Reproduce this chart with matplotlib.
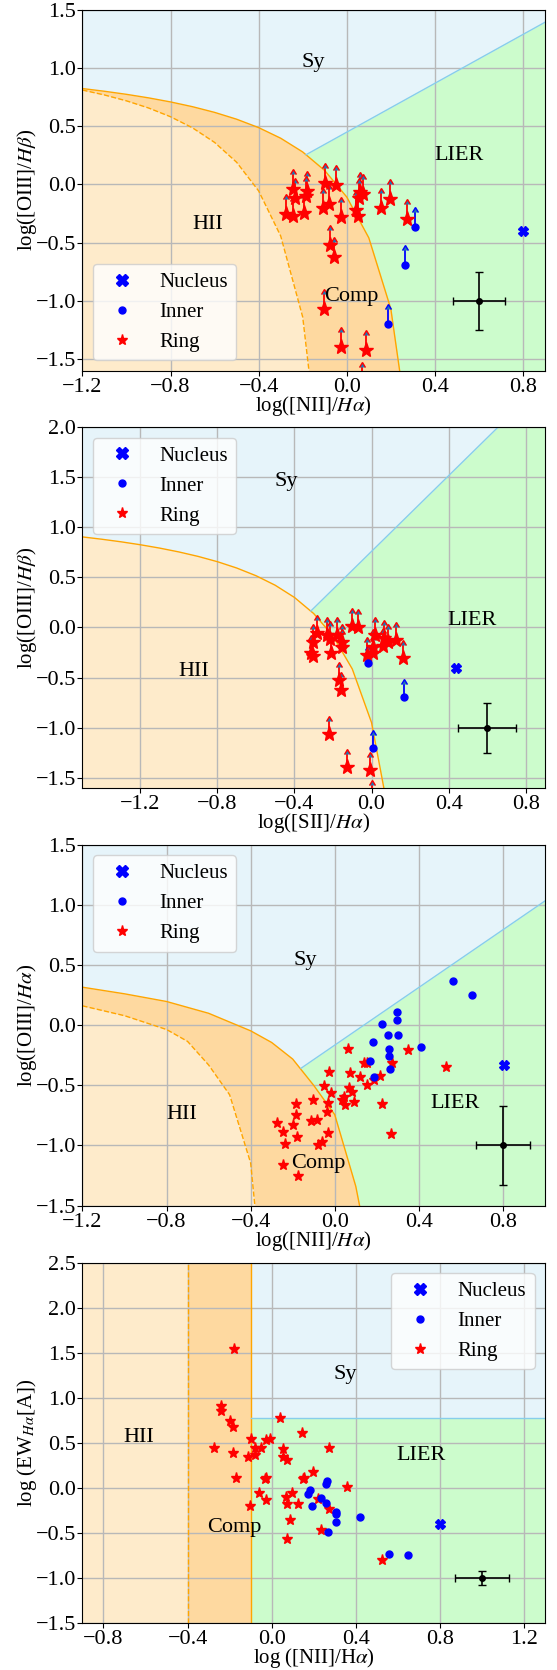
import numpy as np
import matplotlib
matplotlib.use('Agg')
import matplotlib.pyplot as plt
from matplotlib.lines import Line2D

plt.rcParams['font.family'] = ['Liberation Serif', 'DejaVu Serif']
plt.rcParams['mathtext.fontset'] = 'stix'
plt.rcParams['font.size'] = 15

# region colours
c_sy = '#e6f4fa'
c_lier = '#ccfccc'
c_comp = '#fed9a0'
c_hii = '#feebcb'

# ---- panel 1 : [NII]/Ha vs [OIII]/Hb (lower limits)
ring1_x = [-0.245, -0.237, -0.180, -0.184, -0.276, -0.245, -0.195, -0.098, -0.048, -0.110,
           -0.081, -0.027, 0.060, 0.054, 0.072, 0.040, 0.051, 0.157, 0.195, -0.075,
           -0.060, -0.102, -0.027, 0.087, 0.070, 0.273]
ring1_y = [-0.036, -0.114, -0.059, -0.102, -0.251, -0.274, -0.243, 0.013, -0.002, -0.203,
           -0.165, -0.283, -0.065, -0.114, -0.080, -0.217, -0.274, -0.200, -0.122, -0.524,
           -0.625, -1.070, -1.400, -1.420, -1.700, -0.294]
inner1_x = [0.308, 0.263, 0.187]
inner1_y = [-0.366, -0.690, -1.200]
nuc1_x = [0.80]
nuc1_y = [-0.40]

# ---- panel 2 : [SII]/Ha vs [OIII]/Hb (lower limits)
ring2_x = [-0.285, -0.302, -0.233, -0.215, -0.181, -0.155, -0.155, -0.316, -0.305, -0.212,
           -0.103, -0.072, 0.018, 0.066, 0.061, 0.087, 0.127, 0.006, -0.025, 0.009,
           0.161, -0.167, -0.160, -0.219, -0.129, -0.008, 0.002]
ring2_y = [-0.052, -0.141, -0.075, -0.118, -0.075, -0.141, -0.191, -0.258, -0.285, -0.251,
           0.015, 0.002, -0.075, -0.108, -0.185, -0.141, -0.125, -0.198, -0.275, -0.258,
           -0.308, -0.524, -0.624, -1.064, -1.397, -1.424, -1.700]
inner2_x = [-0.020, 0.168, 0.009]
inner2_y = [-0.358, -0.691, -1.200]
nuc2_x = [0.44]
nuc2_y = [-0.40]

# ---- panel 3 : [NII]/Ha vs [OIII]/Ha
ring3_x = [0.063, -0.028, 0.071, 0.121, 0.138, 0.151, 0.270, 0.350, 0.215, 0.188,
           0.152, -0.052, -0.016, 0.067, 0.083, 0.044, 0.035, 0.047, 0.091, 0.227,
           -0.102, -0.185, -0.031, -0.184, -0.035, -0.275, -0.199, -0.113, -0.086, -0.246,
           -0.180, -0.031, 0.267, -0.238, -0.082, -0.063, -0.246, -0.176, 0.530]
ring3_y = [-0.194, -0.389, -0.397, -0.433, -0.314, -0.314, -0.314, -0.208, -0.419, -0.458,
           -0.494, -0.508, -0.564, -0.522, -0.558, -0.597, -0.625, -0.661, -0.639, -0.653,
           -0.619, -0.653, -0.647, -0.744, -0.725, -0.814, -0.833, -0.800, -0.792, -0.889,
           -0.933, -0.897, -0.903, -0.986, -0.994, -0.975, -1.161, -1.258, -0.345]
inner3_x = [0.298, 0.298, 0.227, 0.251, 0.303, 0.180, 0.259, 0.411, 0.256, 0.168,
            0.264, 0.188, 0.564, 0.653]
inner3_y = [0.108, 0.047, 0.011, -0.081, -0.081, -0.142, -0.194, -0.183, -0.258, -0.294,
            -0.364, -0.431, 0.367, 0.256]
nuc3_x = [0.805]
nuc3_y = [-0.33]
# demarcation lines
kew3_x = [-1.2, -1.0, -0.8, -0.6, -0.4, -0.3, -0.2, -0.1, 0.0, 0.1, 0.118]
kew3_y = [0.317, 0.262, 0.198, 0.100, -0.046, -0.143, -0.281, -0.500, -0.744, -1.340, -1.500]
kau3_x = [-1.2, -1.0, -0.8, -0.7, -0.6, -0.5, -0.4, -0.38]
kau3_y = [0.162, 0.080, -0.035, -0.134, -0.330, -0.578, -1.146, -1.500]
sy3_x = [-0.16, 1.0]
sy3_y = [-0.357, 1.035]

# ---- panel 4 : WHAN
ring4_x = [-0.178, -0.242, -0.243, -0.198, -0.183, -0.274, -0.183, -0.113, -0.172, -0.100,
           -0.105, -0.080, -0.079, -0.050, -0.060, -0.026, -0.008, -0.027, -0.030, -0.027,
           0.040, 0.143, 0.274, 0.055, 0.052, 0.074, 0.155, 0.150, 0.195, 0.357,
           0.095, 0.068, 0.074, 0.127, 0.222, 0.274, 0.087, 0.233, 0.071, 0.523]
ring4_y = [1.543, 0.911, 0.859, 0.748, 0.681, 0.441, 0.386, 0.349, 0.108, 0.541,
           -0.198, 0.441, 0.367, 0.441, -0.058, 0.530, 0.548, 0.108, 0.095, -0.128,
           0.781, 0.607, 0.448, 0.434, 0.349, 0.312, 0.116, 0.100, 0.182, 0.008,
           -0.058, -0.095, -0.177, -0.180, -0.121, -0.232, -0.354, -0.465, -0.568, -0.797]
inner4_x = [0.262, 0.260, 0.182, 0.171, 0.193, 0.235, 0.257, 0.306, 0.305, 0.304,
            0.269, 0.420, 0.557, 0.646]
inner4_y = [0.078, 0.050, -0.021, -0.069, -0.199, -0.114, -0.162, -0.270, -0.290, -0.372,
            -0.483, -0.317, -0.735, -0.742]
nuc4_x = [0.80]
nuc4_y = [-0.40]
ew_cut = 0.78


def kewley_nii(x):
    return 0.61 / (x - 0.47) + 1.19

def kauffmann_nii(x):
    return 0.61 / (x - 0.05) + 1.3

def kewley_sii(x):
    return 0.72 / (x - 0.32) + 1.30

def crossing(xc, yc, slope, icpt):
    # where the Seyfert/LIER line leaves the maximum starburst curve
    xs = np.linspace(xc[0], xc[-1], 5000)
    d = slope * xs + icpt - np.interp(xs, xc, yc)
    i = np.argmax(d > 0)
    return xs[i], slope * xs[i] + icpt


def draw_regions(ax, xk, yk, xd, yd, sy_x, sy_y, under_col):
    ax.set_facecolor(c_sy)
    ax.fill_between(sy_x, -8, sy_y, color=c_lier, lw=0)
    ax.fill_between(xk, -8, yk, color=under_col, lw=0)
    if xd is not None:
        ax.fill_between(xd, -8, yd, color=c_hii, lw=0)
        ax.plot(xd, yd, '--', color='orange', lw=1)
    ax.plot(xk, yk, color='orange', lw=1)
    ax.plot(sy_x, sy_y, color='skyblue', lw=1)


def draw_points(ax, nx, ny, ix, iy, rx, ry, ring_ms, limits):
    if limits:
        ax.errorbar(rx, ry, yerr=0.13, lolims=True, fmt='none', ecolor='red',
                    elinewidth=1.3, capsize=2.2, zorder=3)
        ax.errorbar(ix, iy, yerr=0.13, lolims=True, fmt='none', ecolor='blue',
                    elinewidth=1.3, capsize=2.2, zorder=3)
    ax.plot(rx, ry, '*', color='red', ms=ring_ms, ls='none', zorder=4)
    ax.plot(ix, iy, 'o', color='blue', ms=5, ls='none', zorder=4)
    ax.plot(nx, ny, 'X', color='blue', ms=7, ls='none', zorder=4)


def finish(ax, xlim, ylim, xticks, yticks, xlabel, ylabel, loc, err):
    ax.errorbar(err[0], err[1], xerr=err[2], yerr=err[3], fmt='o', color='black',
                ms=4, capsize=3, elinewidth=1.2, zorder=5)
    ax.set_xlim(xlim)
    ax.set_ylim(ylim)
    ax.set_xticks(xticks)
    ax.set_yticks(yticks)
    ax.tick_params(labelsize=16, pad=1)
    ax.tick_params(axis='x', pad=1.5)
    ax.grid(True, color='#b8b8b8', lw=1)
    ax.set_xlabel(xlabel, labelpad=-2)
    ax.set_ylabel(ylabel, labelpad=-2)
    handles = [Line2D([], [], marker='X', color='blue', ls='none', ms=8, label='Nucleus'),
               Line2D([], [], marker='o', color='blue', ls='none', ms=5, label='Inner'),
               Line2D([], [], marker='*', color='red', ls='none', ms=8, label='Ring')]
    ax.legend(handles=handles, loc=loc)


def label(ax, items):
    for txt, x, y in items:
        ax.text(x, y, txt, ha='center', va='center', fontsize=16, zorder=6)


fig = plt.figure(figsize=(5.57, 16.7), dpi=100)
left, width, height = 0.148, 0.8305, 0.2159
bottoms = [0.7781, 0.5283, 0.2781, 0.0280]
axs = [fig.add_axes([left, b, width, height]) for b in bottoms]

# panel 1
ax = axs[0]
xk = np.arange(-1.2, 0.31, 0.1)
xd = np.arange(-1.2, -0.09, 0.1)
xi, yi = crossing(xk, kewley_nii(xk), 1.05, 0.45)
draw_regions(ax, xk, kewley_nii(xk), xd, kauffmann_nii(xd),
             [xi, 0.9], [yi, 1.05 * 0.9 + 0.45], c_comp)
draw_points(ax, nuc1_x, nuc1_y, inner1_x, inner1_y, ring1_x, ring1_y, 11, True)
label(ax, [('Sy', -0.15, 1.05), ('LIER', 0.51, 0.25), ('HII', -0.63, -0.34), ('Comp', 0.02, -0.96)])
finish(ax, (-1.2, 0.9), (-1.6, 1.5), np.arange(-1.2, 0.81, 0.4), np.arange(-1.5, 1.51, 0.5),
       r'log([NII]/$H\alpha$)', r'log([OIII]/$H\beta$)', 'lower left', (0.6, -1.0, 0.12, 0.25))

# panel 2
ax = axs[1]
xk = np.arange(-1.5, 0.11, 0.1)
xi, yi = crossing(xk, kewley_sii(xk), 1.89, 0.76)
draw_regions(ax, xk, kewley_sii(xk), None, None,
             [xi, 0.9], [yi, 1.89 * 0.9 + 0.76], c_hii)
draw_points(ax, nuc2_x, nuc2_y, inner2_x, inner2_y, ring2_x, ring2_y, 11, True)
label(ax, [('Sy', -0.44, 1.46), ('LIER', 0.52, 0.065), ('HII', -0.92, -0.435)])
finish(ax, (-1.5, 0.9), (-1.6, 2.0), np.arange(-1.2, 0.81, 0.4), np.arange(-1.5, 2.01, 0.5),
       r'log([SII]/$H\alpha$)', r'log([OIII]/$H\beta$)', 'upper left', (0.6, -1.0, 0.15, 0.25))

# panel 3
ax = axs[2]
draw_regions(ax, kew3_x, kew3_y, kau3_x, kau3_y, sy3_x, sy3_y, c_comp)
draw_points(ax, nuc3_x, nuc3_y, inner3_x, inner3_y, ring3_x, ring3_y, 8, False)
label(ax, [('Sy', -0.14, 0.54), ('LIER', 0.57, -0.65), ('HII', -0.73, -0.74), ('Comp', -0.08, -1.15)])
finish(ax, (-1.2, 1.0), (-1.5, 1.5), np.arange(-1.2, 0.81, 0.4), np.arange(-1.5, 1.51, 0.5),
       r'log([NII]/$H\alpha$)', r'log([OIII]/$H\alpha$)', 'upper left', (0.8, -1.0, 0.13, 0.33))

# panel 4
ax = axs[3]
ax.set_facecolor(c_sy)
ax.fill_between([-0.1, 1.3], -8, ew_cut, color=c_lier, lw=0)
ax.axvspan(-0.9, -0.4, color=c_hii, lw=0)
ax.axvspan(-0.4, -0.1, color=c_comp, lw=0)
ax.axvline(-0.4, ls='--', color='orange', lw=1)
ax.axvline(-0.1, color='orange', lw=1)
ax.plot([-0.1, 1.3], [ew_cut, ew_cut], color='skyblue', lw=1)
draw_points(ax, nuc4_x, nuc4_y, inner4_x, inner4_y, ring4_x, ring4_y, 8, False)
label(ax, [('HII', -0.63, 0.56), ('Sy', 0.35, 1.26), ('LIER', 0.71, 0.36), ('Comp', -0.18, -0.44)])
finish(ax, (-0.9, 1.3), (-1.5, 2.5), np.arange(-0.8, 1.21, 0.4), np.arange(-1.5, 2.51, 0.5),
       r'log ([NII]/H$\alpha$)', r'log (EW$_{H\alpha}$[A])', 'upper right', (1.0, -1.0, 0.13, 0.08))

fig.savefig('out.png', dpi=100)
